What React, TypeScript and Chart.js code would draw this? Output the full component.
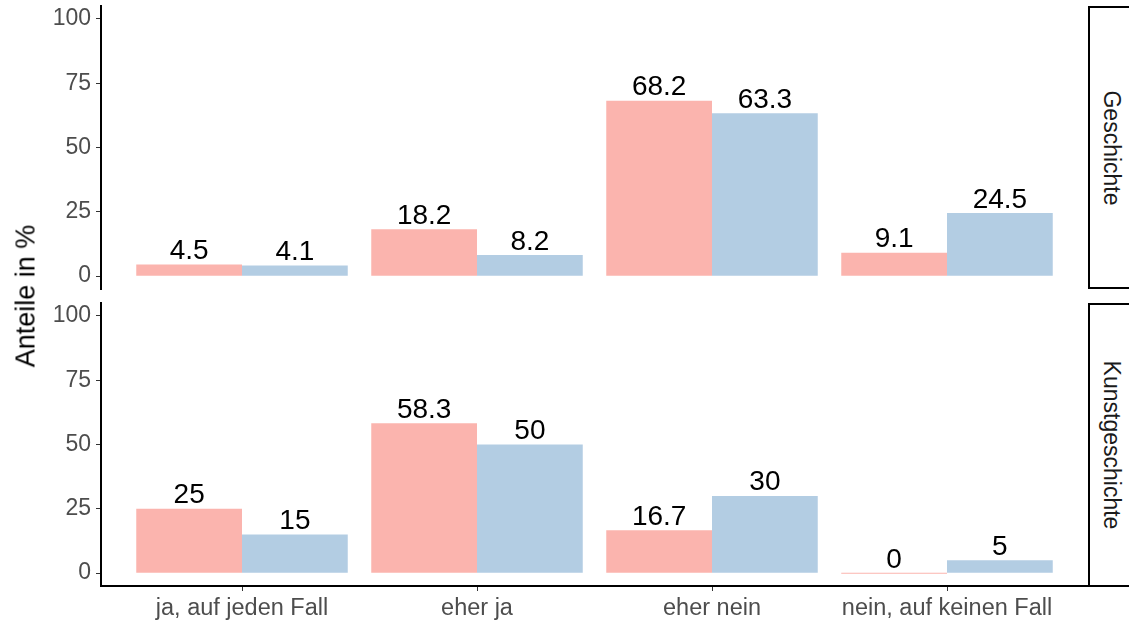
import React, { useEffect, useRef } from "react";
import { Chart, registerables } from "chart.js";

Chart.register(...registerables);

const categories = ["ja, auf jeden Fall", "eher ja", "eher nein", "nein, auf keinen Fall"];
const positions = [1, 2, 3, 4];
const yTicks = [0, 25, 50, 75, 100];
const panelNames = ["Geschichte", "Kunstgeschichte"];
const geschichteA = [4.5, 18.2, 68.2, 9.1];
const geschichteB = [4.1, 8.2, 63.3, 24.5];
const kunstA = [25, 58.3, 16.7, 0];
const kunstB = [15, 50, 30, 5];

const PINK = "#FBB4AE";
const BLUE = "#B3CDE3";
const FONT = "'Liberation Sans', Arial, Helvetica, sans-serif";

const labelPlugin = {
  id: "barLabels",
  afterDatasetsDraw(chart: any) {
    const ctx = chart.ctx;
    ctx.save();
    ctx.font = `28px ${FONT}`;
    ctx.fillStyle = "#000000";
    ctx.textAlign = "center";
    ctx.textBaseline = "alphabetic";
    chart.data.datasets.forEach((ds: any, i: number) => {
      const meta = chart.getDatasetMeta(i);
      meta.data.forEach((bar: any, j: number) => {
        const v = ds.data[j].y;
        ctx.fillText(String(v), bar.x, bar.y - 5.5);
      });
    });
    ctx.restore();
  },
};

function buildConfig(a: number[], b: number[], showX: boolean, padTop: number, padBottom: number): any {
  return {
    type: "bar",
    data: {
      datasets: [
        {
          label: "A",
          data: positions.map((x, i) => ({ x, y: a[i] })),
          backgroundColor: PINK,
          borderWidth: 0,
          minBarLength: 1,
          categoryPercentage: 0.9,
          barPercentage: 1.0,
        },
        {
          label: "B",
          data: positions.map((x, i) => ({ x, y: b[i] })),
          backgroundColor: BLUE,
          borderWidth: 0,
          minBarLength: 1,
          categoryPercentage: 0.9,
          barPercentage: 1.0,
        },
      ],
    },
    options: {
      responsive: false,
      animation: false,
      events: [],
      layout: { padding: { left: 0, right: 41, top: padTop, bottom: padBottom } },
      plugins: { legend: { display: false }, tooltip: { enabled: false }, title: { display: false } },
      scales: {
        x: {
          type: "linear",
          display: showX,
          offset: false,
          min: 0.4,
          max: 4.6,
          afterBuildTicks: (scale: any) => {
            scale.ticks = positions.map((v) => ({ value: v }));
          },
          afterFit: (scale: any) => {
            if (showX) scale.height = 39;
            scale.paddingLeft = 0;
            scale.paddingRight = 0;
            scale.paddingTop = 0;
            scale.paddingBottom = 0;
          },
          border: { display: true, color: "#000000", width: 2 },
          grid: { display: true, offset: false, drawOnChartArea: false, drawTicks: true, tickLength: 5, tickColor: "#333333", lineWidth: 1 },
          ticks: {
            autoSkip: false,
            maxRotation: 0,
            minRotation: 0,
            padding: 3,
            color: "#4D4D4D",
            font: { family: FONT, size: 23.5 },
            callback: (v: number) => categories[v - 1] ?? "",
          },
        },
        y: {
          type: "linear",
          min: -5,
          max: 105,
          afterBuildTicks: (scale: any) => {
            scale.ticks = yTicks.map((v) => ({ value: v }));
          },
          afterFit: (scale: any) => {
            scale.width = 101;
            scale.paddingTop = 0;
            scale.paddingBottom = 0;
            scale.paddingLeft = 0;
            scale.paddingRight = 0;
          },
          border: { display: true, color: "#000000", width: 2 },
          grid: { display: true, drawOnChartArea: false, drawTicks: true, tickLength: 5, tickColor: "#333333", lineWidth: 1 },
          ticks: {
            padding: 5,
            color: "#4D4D4D",
            font: { family: FONT, size: 23 },
            callback: (v: number) => String(v),
          },
        },
      },
    },
    plugins: [labelPlugin],
  };
}

function Panel({ a, b, showX, top, height, padTop, padBottom }: any) {
  const ref = useRef<HTMLCanvasElement>(null);
  useEffect(() => {
    if (!ref.current) return;
    const chart = new Chart(ref.current, buildConfig(a, b, showX, padTop, padBottom));
    return () => chart.destroy();
  }, []);
  return (
    <canvas
      ref={ref}
      width={1129}
      height={height}
      style={{ position: "absolute", left: 0, top, width: 1129, height }}
    />
  );
}

function Strip({ top, height, text }: any) {
  return (
    <div
      style={{
        position: "absolute",
        left: 1088,
        top,
        width: 60,
        height,
        boxSizing: "border-box",
        border: "2.5px solid #000000",
        background: "#FFFFFF",
      }}
    >
      <div
        style={{
          position: "absolute",
          left: 21,
          top: height / 2 - 2,
          transform: "translate(-50%, -50%) rotate(90deg)",
          whiteSpace: "nowrap",
          fontFamily: FONT,
          fontSize: 23,
          color: "#1A1A1A",
        }}
      >
        {text}
      </div>
    </div>
  );
}

export default function App() {
  return (
    <div
      style={{
        position: "fixed",
        left: 0,
        top: 0,
        width: 1129,
        height: 625,
        overflow: "hidden",
        background: "#FFFFFF",
      }}
    >
      <Panel a={geschichteA} b={geschichteB} showX={false} top={0} height={300} padTop={6} padBottom={11} />
      <Panel a={kunstA} b={kunstB} showX={true} top={295} height={330} padTop={8} padBottom={0} />
      <Strip top={6} height={283} text={panelNames[0]} />
      <Strip top={303} height={284} text={panelNames[1]} />
      <div
        style={{
          position: "absolute",
          left: 26,
          top: 296,
          transform: "translate(-50%, -50%) rotate(-90deg)",
          whiteSpace: "nowrap",
          fontFamily: FONT,
          fontSize: 27,
          color: "#000000",
        }}
      >
        Anteile in %
      </div>
    </div>
  );
}
